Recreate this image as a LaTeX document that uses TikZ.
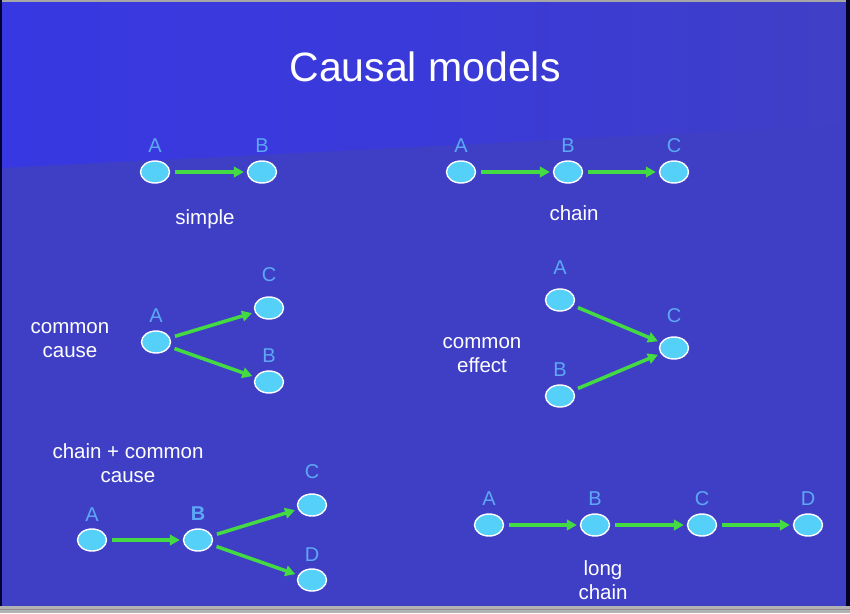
\documentclass[tikz,border=0pt]{standalone}
\usepackage{fontspec}
\setmainfont{Liberation Sans}
\usetikzlibrary{shapes.geometric,arrows.meta}
\definecolor{bgmain}{HTML}{3F3FC6}
\definecolor{bglight}{HTML}{3838E2}
\definecolor{nodecyan}{HTML}{55D0F8}
\definecolor{lettercol}{HTML}{5CA8F4}
\definecolor{arrowgreen}{HTML}{44DA44}
\tikzset{
  x=1pt,y=-1pt,
  vnode/.style={ellipse,fill=nodecyan,draw=white,line width=1.4pt,minimum width=29pt,minimum height=22pt,inner sep=0pt},
  letter/.style={text=lettercol,font=\fontsize{20}{20}\selectfont,inner sep=0pt},
  caption/.style={text=white,font=\fontsize{20.5}{24}\selectfont,align=center,inner sep=0pt},
  garrow/.style={draw=arrowgreen,line width=3.5pt,-{Triangle[length=10pt,width=10.5pt]},shorten <=5pt,shorten >=3pt}
}
\begin{document}
\begin{tikzpicture}
\useasboundingbox (0,0) rectangle (850,613);
% background
\fill[bgmain] (0,0) rectangle (850,613);
\shade[left color=bglight,right color=bgmain,middle color=bglight!70!bgmain] (0,0) -- (850,0) -- (850,125) -- (0,168) -- cycle;
% frame
\fill[gray!70] (0,0) rectangle (850,2);
\fill[black!80!blue] (0,0) rectangle (2,613);
\fill[black!85!blue] (846,0) rectangle (850,613);
\fill[gray!60] (0,606) rectangle (850,613);
\fill[gray!90] (0,609) rectangle (850,610);
% title
\node[text=white,font=\fontsize{41}{41}\selectfont,inner sep=0pt] (title) at (425,67) {Causal models};

% simple
\node[vnode] (sA) at (155,172) {};
\node[vnode] (sB) at (262,172) {};
\node[letter] (lsA) at (155,146) {A};
\node[letter] (lsB) at (262,146) {B};
\node[caption] (csimple) at (205,219) {simple};
\draw[garrow] (sA) -- (sB);

% chain
\node[vnode] (cA) at (461,172) {};
\node[vnode] (cB) at (568,172) {};
\node[vnode] (cC) at (674,172) {};
\node[letter] (lcA) at (461,146) {A};
\node[letter] (lcB) at (568,146) {B};
\node[letter] (lcC) at (674,146) {C};
\node[caption] (cchain) at (574,213) {chain};
\draw[garrow] (cA) -- (cB);
\draw[garrow] (cB) -- (cC);

% common cause
\node[vnode] (ccA) at (156,342) {};
\node[vnode] (ccC) at (269,308) {};
\node[vnode] (ccB) at (269,382) {};
\node[letter] (lccA) at (156,316) {A};
\node[letter] (lccC) at (269,275) {C};
\node[letter] (lccB) at (269,356) {B};
\node[caption] (ccause) at (70,340) {common\\cause};
\draw[garrow] (ccA) -- (ccC);
\draw[garrow] (ccA) -- (ccB);

% common effect
\node[vnode] (ceA) at (560,300) {};
\node[vnode] (ceB) at (560,396) {};
\node[vnode] (ceC) at (674,348) {};
\node[letter] (lceA) at (560,268) {A};
\node[letter] (lceB) at (560,370) {B};
\node[letter] (lceC) at (674,316) {C};
\node[caption] (ceffect) at (482,355) {common\\effect};
\draw[garrow] (ceA) -- (ceC);
\draw[garrow] (ceB) -- (ceC);

% chain + common cause
\node[caption] (ccc) at (128,463) {chain + common\\cause};
\node[vnode] (xA) at (92,540) {};
\node[vnode] (xB) at (198,540) {};
\node[vnode] (xC) at (312,505) {};
\node[vnode] (xD) at (312,580) {};
\node[letter] (lxA) at (92,515) {A};
\node[letter,font=\fontsize{20}{20}\selectfont\bfseries] (lxB) at (198,514) {B};
\node[letter] (lxC) at (312,472) {C};
\node[letter] (lxD) at (312,555) {D};
\draw[garrow] (xA) -- (xB);
\draw[garrow] (xB) -- (xC);
\draw[garrow] (xB) -- (xD);

% long chain
\node[vnode] (lA) at (489,525) {};
\node[vnode] (lB) at (595,525) {};
\node[vnode] (lC) at (702,525) {};
\node[vnode] (lD) at (808,525) {};
\node[letter] (llA) at (489,499) {A};
\node[letter] (llB) at (595,499) {B};
\node[letter] (llC) at (702,499) {C};
\node[letter] (llD) at (808,499) {D};
\node[caption] (clong) at (603,580) {long\\chain};
\draw[garrow] (lA) -- (lB);
\draw[garrow] (lB) -- (lC);
\draw[garrow] (lC) -- (lD);
\end{tikzpicture}
\end{document}
